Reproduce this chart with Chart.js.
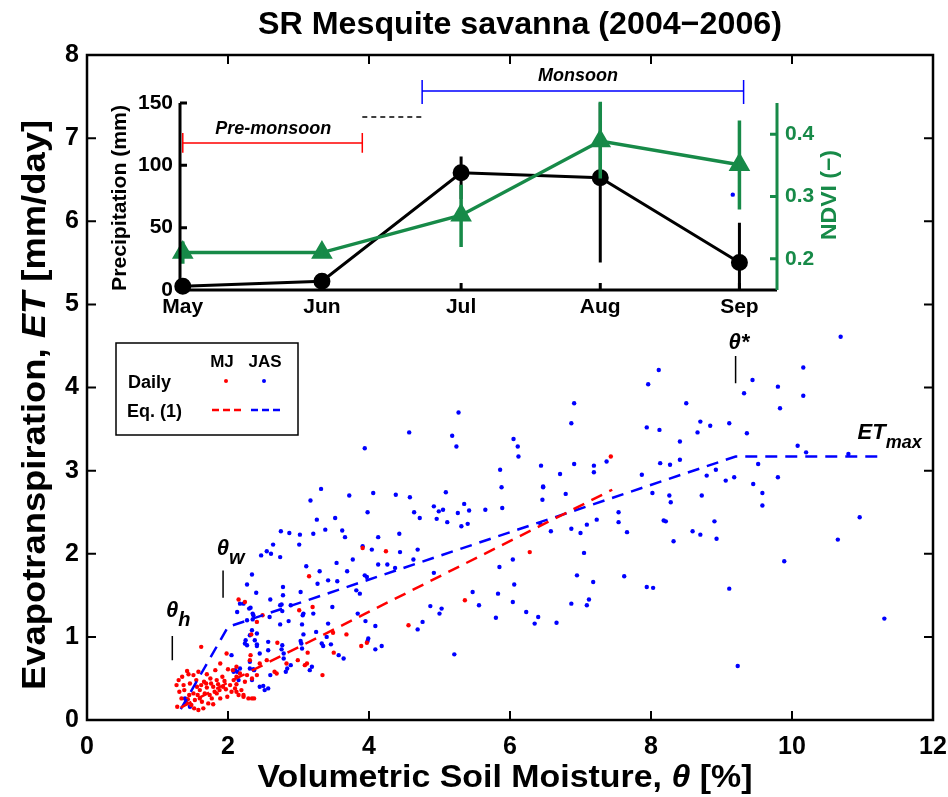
<!DOCTYPE html>
<html>
<head>
<meta charset="utf-8">
<title>SR Mesquite savanna (2004-2006)</title>
<script src="https://cdn.jsdelivr.net/npm/chart.js@4.4.0/dist/chart.umd.min.js"></script>
<style>
  html, body { margin: 0; padding: 0; background: #fff; }
  #wrap { position: relative; width: 948px; height: 797px; }
  #wrap canvas { position: absolute; left: 0; top: 0; }
</style>
</head>
<body>
<div id="wrap">
  <canvas id="mainChart" width="948" height="797"></canvas>
  <canvas id="insetChart" width="948" height="797"></canvas>
</div>
<script>
// ---- main panel data: daily ET vs soil moisture ----
const mjTheta = [1.62,1.42,1.58,1.89,1.98,2.00,1.92,1.75,1.84,1.66,1.56,1.46,1.37,1.27,1.31,1.34,1.28,1.41,1.48,1.53,
  1.58,1.65,1.72,1.77,1.84,1.60,1.67,1.51,1.60,1.70,1.79,1.86,1.93,2.03,2.12,2.05,1.99,1.89,1.79,2.15,
  2.22,2.29,2.34,2.19,2.12,2.07,2.17,2.27,2.24,2.34,2.41,1.44,1.51,1.30,1.82,2.12,2.31,2.45,2.55,
  1.55,1.70,1.63,1.45,1.74,1.88,1.95,1.38,1.52,1.69,1.81,1.57,1.97,2.08,1.43,1.35,1.76,1.62,
  2.41,2.33,2.70,3.13,2.99,3.09,3.12,3.34,2.69,2.66,2.32,2.37,2.22,2.10,2.12,2.83,
  3.15,2.15,3.01,3.20,2.49,2.24,3.91,4.24,5.36,6.28,4.56,3.68,3.89,3.97,3.50,3.49,7.43];
const mjET = [0.88,0.59,0.58,0.68,0.80,0.61,0.52,0.50,0.48,0.46,0.40,0.44,0.42,0.42,0.34,0.26,0.16,0.20,0.18,0.24,
  0.12,0.14,0.20,0.26,0.32,0.36,0.32,0.32,0.26,0.39,0.40,0.43,0.40,0.42,0.43,0.34,0.28,0.26,0.19,0.30,
  0.28,0.26,0.26,0.36,0.52,0.60,0.56,0.54,0.46,0.50,0.54,0.55,0.54,0.48,0.60,0.64,0.72,0.68,0.72,
  0.48,0.55,0.22,0.30,0.30,0.36,0.47,0.36,0.14,0.44,0.34,0.30,0.37,0.48,0.25,0.52,0.44,0.42,
  1.18,1.03,0.93,0.81,0.72,0.66,0.68,0.54,0.56,0.58,0.78,0.26,0.30,0.38,0.34,0.68,
  1.73,1.45,1.32,1.36,1.26,1.42,2.07,2.03,1.44,2.02,1.14,1.03,0.89,0.93,0.81,1.05,3.17];

const jasTheta = [1.39,1.41,1.46,2.05,2.08,2.17,2.24,2.31,2.34,2.27,2.36,2.41,2.45,2.57,2.31,2.36,2.45,2.52,2.17,2.22,
  2.30,2.35,2.59,2.76,2.86,3.06,3.21,2.74,3.05,3.48,3.42,2.41,2.25,2.38,2.41,2.27,2.77,2.76,2.57,2.79,
  2.79,3.07,3.03,3.04,3.05,3.25,3.33,3.35,3.46,3.57,3.64,3.19,3.16,2.84,2.82,2.89,2.60,2.50,2.57,2.34,
  2.31,2.37,2.10,2.13,2.15,3.40,
  3.32,3.17,3.26,3.52,3.38,3.21,2.75,2.87,3.02,3.01,2.64,2.47,2.55,2.61,2.74,3.11,3.54,2.34,3.30,2.27,
  3.42,3.27,3.55,2.40,2.78,2.78,3.03,2.60,2.32,2.74,2.77,2.89,3.07,2.13,2.35,
  5.27,4.57,3.94,5.18,5.24,6.05,6.11,6.12,5.86,6.44,5.88,6.47,6.46,3.72,4.06,4.38,4.58,5.09,3.98,4.64,
  4.72,4.92,4.99,5.05,4.96,5.11,5.26,5.35,5.42,5.65,5.89,5.31,5.40,3.62,3.66,4.13,4.43,3.91,4.04,4.44,
  4.69,3.77,3.69,4.13,4.26,4.37,4.63,3.94,3.97,3.82,3.87,4.92,6.04,5.85,6.06,5.47,5.83,6.04,5.56,4.87,
  5.03,5.00,3.84,3.95,4.09,4.69,4.76,5.80,6.23,6.40,6.35,3.99,3.98,4.09,4.18,5.21,
  6.91,6.87,6.91,6.71,7.19,7.19,6.47,6.79,6.43,6.58,6.87,7.00,7.09,7.23,7.05,6.95,7.18,6.87,7.12,7.09,
  6.66,9.23,
  8.11,7.96,8.50,7.94,8.12,8.70,8.84,8.66,9.11,8.41,7.37,8.13,8.27,8.41,7.87,8.79,8.92,9.06,9.18,8.02,
  8.26,8.28,8.72,7.54,7.54,8.18,8.21,8.90,7.66,8.32,8.59,8.70,8.93,7.62,7.94,8.03,9.11,
  10.69,10.16,9.44,9.80,9.32,10.16,9.83,9.36,10.08,10.20,9.52,9.45,9.80,9.58,9.58,10.96,10.65,9.89,11.31,10.80,
  9.16];
const jasET = [0.26,0.24,0.16,0.78,0.58,0.62,0.92,1.02,1.08,1.20,1.26,0.89,0.80,0.94,0.70,0.61,0.40,0.36,1.40,1.40,
  1.34,1.21,1.24,1.39,1.19,1.26,1.28,1.15,1.15,1.36,1.16,1.04,0.96,0.96,0.91,0.90,0.90,0.85,0.84,0.80,
  0.74,1.03,0.95,0.92,0.86,1.06,0.92,0.89,0.91,0.78,0.74,0.64,0.60,0.62,0.58,0.66,0.54,0.41,0.38,0.48,
  0.62,0.60,0.60,0.58,0.48,1.00,
  2.78,2.64,2.41,2.43,2.29,2.24,2.27,2.25,2.23,2.11,2.11,1.98,2.03,2.00,1.96,1.85,1.89,1.75,1.79,1.63,
  1.68,1.64,1.67,1.53,1.60,1.50,1.54,1.45,1.35,1.38,1.31,1.38,1.28,1.30,1.28,
  3.70,3.46,3.27,3.42,3.29,3.38,3.29,3.17,3.01,3.06,2.80,2.81,2.65,2.70,2.73,2.71,2.68,2.74,2.50,2.50,
  2.43,2.57,2.51,2.53,2.42,2.38,2.49,2.60,2.52,2.53,2.55,2.33,2.36,2.28,2.20,2.20,2.24,2.09,2.05,2.02,
  2.05,1.93,1.79,1.87,1.87,1.83,1.93,1.74,1.72,1.56,1.52,1.77,1.93,1.84,1.63,1.54,1.52,1.42,1.38,1.37,
  1.34,1.28,1.28,1.19,1.13,1.09,1.18,1.23,1.30,1.24,1.16,0.98,0.95,0.85,0.89,0.79,
  3.81,3.57,3.08,2.96,3.06,2.98,2.80,2.72,2.36,2.27,2.30,2.25,2.35,2.41,2.01,1.74,1.66,1.40,1.45,1.38,
  1.17,0.65,
  4.21,4.04,3.81,3.52,3.49,3.59,3.54,3.46,3.57,3.35,3.11,3.09,3.07,3.13,2.95,2.94,3.01,2.88,2.92,2.73,
  2.70,2.62,2.70,2.50,2.38,2.40,2.39,2.39,2.26,2.15,2.27,2.23,2.18,1.73,1.60,1.59,1.58,
  4.61,4.24,4.09,4.01,3.93,3.90,3.75,3.45,3.30,3.22,3.08,2.84,2.92,2.73,2.58,2.44,2.17,1.91,1.22,3.20,
  6.32];

// Eq. (1) fits, breakpoints at theta_h, theta_w, theta*
const eqThetaMJ = [1.33, 2.0, 7.45];
const eqMJ = [0.15, 0.45, 2.77];
const eqThetaJAS = [1.33, 2.0, 9.2, 11.3];
const eqJAS = [0.13, 1.12, 3.17, 3.17];

const xTicks = [0, 2, 4, 6, 8, 10, 12];
const yTicks = [0, 1, 2, 3, 4, 5, 6, 7, 8];

// ---- inset data: monthly precipitation and NDVI ----
const monthNum = [5, 6, 7, 8, 9];
const monthLabels = ['May', 'Jun', 'Jul', 'Aug', 'Sep'];
const precip = [3, 7, 94, 90, 22];
const precipLow = [0, 3, 73, 22, 0];
const precipHigh = [6, 11, 107, 150, 54];
const ndvi = [0.21, 0.21, 0.27, 0.389, 0.351];
const ndviLow = [0.192, 0.205, 0.219, 0.329, 0.279];
const ndviHigh = [0.228, 0.215, 0.319, 0.452, 0.422];
const precipTicks = [0, 50, 100, 150];
const ndviTicks = [0.2, 0.3, 0.4];

const FAM = '"Liberation Sans", Arial, Helvetica, sans-serif';
const GREEN = '#178a48';

const pts = (xs, ys) => xs.map((x, i) => ({ x: x, y: ys[i] }));

// draw a run of text pieces, optionally squeezed to a target width
function drawParts(ctx, parts, x, y, opt) {
  opt = opt || {};
  ctx.save();
  ctx.translate(x, y);
  if (opt.rot) ctx.rotate(opt.rot);
  let total = 0;
  parts.forEach(p => { ctx.font = p.f; p.w = ctx.measureText(p.t).width; total += p.w; });
  if (opt.width) ctx.scale(opt.width / total, 1);
  let cx = opt.align === 'center' ? -total / 2 : (opt.align === 'right' ? -total : 0);
  ctx.textBaseline = 'alphabetic';
  ctx.fillStyle = opt.color || '#000';
  parts.forEach(p => { ctx.font = p.f; ctx.fillText(p.t, cx, p.dy || 0); cx += p.w; });
  ctx.restore();
}

const B = s => 'bold ' + s + 'px ' + FAM;
const BI = s => 'italic bold ' + s + 'px ' + FAM;

// keep the plot edges where the layout padding puts them
const noOverhang = s => { s.paddingLeft = 0; s.paddingRight = 0; };

const mainDecor = {
  id: 'mainDecor',
  afterDraw(chart) {
    const ctx = chart.ctx, a = chart.chartArea;
    const sx = chart.scales.x, sy = chart.scales.y;
    ctx.save();
    // box and inward ticks
    ctx.strokeStyle = '#000';
    ctx.lineWidth = 2.5;
    ctx.strokeRect(a.left, a.top, a.right - a.left, a.bottom - a.top);
    ctx.lineWidth = 2;
    ctx.beginPath();
    yTicks.forEach(v => {
      const p = sy.getPixelForValue(v);
      ctx.moveTo(a.left, p); ctx.lineTo(a.left + 9, p);
      ctx.moveTo(a.right, p); ctx.lineTo(a.right - 9, p);
    });
    xTicks.forEach(v => {
      const p = sx.getPixelForValue(v);
      ctx.moveTo(p, a.bottom); ctx.lineTo(p, a.bottom - 9);
      ctx.moveTo(p, a.top); ctx.lineTo(p, a.top + 9);
    });
    ctx.stroke();

    // marker lines for theta_h, theta_w, theta*
    ctx.lineWidth = 1.5;
    ctx.beginPath();
    [[1.21, 0.72, 1.01], [1.93, 1.47, 1.80], [9.2, 4.05, 4.38]].forEach(m => {
      const px = sx.getPixelForValue(m[0]);
      ctx.moveTo(px, sy.getPixelForValue(m[1]));
      ctx.lineTo(px, sy.getPixelForValue(m[2]));
    });
    ctx.stroke();
    ctx.restore();

    drawParts(ctx, [{ t: 'θ', f: BI(22) }, { t: 'h', f: BI(20), dy: 9 }], sx.getPixelForValue(1.12), sy.getPixelForValue(1.24));
    drawParts(ctx, [{ t: 'θ', f: BI(22) }, { t: 'w', f: BI(20), dy: 9 }], sx.getPixelForValue(1.84), sy.getPixelForValue(1.99));
    drawParts(ctx, [{ t: 'θ*', f: BI(22) }], sx.getPixelForValue(9.1), sy.getPixelForValue(4.46));
    drawParts(ctx, [{ t: 'ET', f: BI(22) }, { t: 'max', f: BI(18), dy: 9 }], sx.getPixelForValue(10.93), sy.getPixelForValue(3.38));

    // legend box
    const lx = 116, ly = 343;
    ctx.save();
    ctx.fillStyle = '#fff';
    ctx.fillRect(lx, ly, 182, 92);
    ctx.strokeStyle = '#000';
    ctx.lineWidth = 1.5;
    ctx.strokeRect(lx, ly, 182, 92);
    ctx.fillStyle = '#ff0000';
    ctx.beginPath(); ctx.arc(226, 381, 2, 0, Math.PI * 2); ctx.fill();
    ctx.fillStyle = '#0000ff';
    ctx.beginPath(); ctx.arc(264, 381, 2, 0, Math.PI * 2); ctx.fill();
    ctx.lineWidth = 2.5;
    ctx.setLineDash([7, 4]);
    ctx.strokeStyle = '#ff0000';
    ctx.beginPath(); ctx.moveTo(212, 410); ctx.lineTo(241, 410); ctx.stroke();
    ctx.strokeStyle = '#0000ff';
    ctx.beginPath(); ctx.moveTo(251, 410); ctx.lineTo(280, 410); ctx.stroke();
    ctx.restore();
    drawParts(ctx, [{ t: 'MJ', f: B(17) }], 222, 367, { align: 'center' });
    drawParts(ctx, [{ t: 'JAS', f: B(17) }], 265, 367, { align: 'center' });
    drawParts(ctx, [{ t: 'Daily', f: B(18) }], 128, 388);
    drawParts(ctx, [{ t: 'Eq. (1)', f: B(18) }], 127, 417);

    // titles
    drawParts(ctx, [{ t: 'SR Mesquite savanna (2004\u22122006)', f: B(32) }], 520, 34, { align: 'center', width: 524 });
    drawParts(ctx, [{ t: 'Volumetric Soil Moisture, ', f: B(32) }, { t: 'θ', f: BI(32) }, { t: ' [%]', f: B(32) }],
      505, 787, { align: 'center', width: 495 });
    drawParts(ctx, [{ t: 'Evapotranspiration, ', f: B(34) }, { t: 'ET', f: BI(34) }, { t: ' [mm/day]', f: B(34) }],
      45, 405, { align: 'center', width: 570, rot: -Math.PI / 2 });
  }
};

new Chart(document.getElementById('mainChart'), {
  type: 'scatter',
  data: {
    datasets: [
      { label: 'JAS daily', data: pts(jasTheta, jasET), backgroundColor: '#0000ff', borderWidth: 0, pointRadius: 2.2, order: 4 },
      { label: 'MJ daily', data: pts(mjTheta, mjET), backgroundColor: '#ff0000', borderWidth: 0, pointRadius: 2.2, order: 3 },
      { label: 'JAS Eq. (1)', type: 'line', data: pts(eqThetaJAS, eqJAS), borderColor: '#0000ff', borderWidth: 2.5,
        borderDash: [12, 8], pointRadius: 0, fill: false, order: 2 },
      { label: 'MJ Eq. (1)', type: 'line', data: pts(eqThetaMJ, eqMJ), borderColor: '#ff0000', borderWidth: 2.5,
        borderDash: [12, 8], pointRadius: 0, fill: false, order: 1 }
    ]
  },
  options: {
    responsive: false,
    animation: false,
    layout: { padding: { top: 55, right: 15, left: 0, bottom: 0 } },
    plugins: { legend: { display: false }, tooltip: { enabled: false } },
    scales: {
      x: {
        type: 'linear', min: 0, max: 12,
        afterBuildTicks: s => { s.ticks = xTicks.map(v => ({ value: v })); },
        ticks: { font: { family: FAM, size: 25, weight: 'bold' }, color: '#000', padding: 12, maxRotation: 0 },
        grid: { display: false, drawTicks: false },
        border: { display: false },
        afterFit: s => { s.height = 77; noOverhang(s); }
      },
      y: {
        type: 'linear', min: 0, max: 8,
        afterBuildTicks: s => { s.ticks = yTicks.map(v => ({ value: v })); },
        ticks: { font: { family: FAM, size: 25, weight: 'bold' }, color: '#000', padding: 8 },
        grid: { display: false, drawTicks: false },
        border: { display: false },
        afterFit: s => { s.width = 87; s.paddingTop = 0; s.paddingBottom = 0; }
      }
    }
  },
  plugins: [mainDecor]
});

// ---- inset ----
const insetDecor = {
  id: 'insetDecor',
  afterDatasetDraw(chart, args) {
    const ctx = chart.ctx, sx = chart.scales.x;
    const isP = args.index === 0;
    const sy = isP ? chart.scales.y : chart.scales.y2;
    const lo = isP ? precipLow : ndviLow, hi = isP ? precipHigh : ndviHigh;
    ctx.save();
    ctx.strokeStyle = isP ? '#000' : GREEN;
    ctx.lineWidth = isP ? 3 : 3.5;
    ctx.beginPath();
    monthNum.forEach((m, i) => {
      const px = sx.getPixelForValue(m);
      ctx.moveTo(px, sy.getPixelForValue(lo[i]));
      ctx.lineTo(px, sy.getPixelForValue(hi[i]));
    });
    ctx.stroke();
    ctx.restore();
  },
  afterDraw(chart) {
    const ctx = chart.ctx, a = chart.chartArea;
    const sx = chart.scales.x, sy = chart.scales.y, s2 = chart.scales.y2;
    ctx.save();
    ctx.lineCap = 'butt';
    ctx.strokeStyle = '#000';
    ctx.lineWidth = 3;
    ctx.beginPath();
    ctx.moveTo(a.left, a.top); ctx.lineTo(a.left, a.bottom); ctx.lineTo(a.right, a.bottom);
    precipTicks.forEach(v => { const p = sy.getPixelForValue(v); ctx.moveTo(a.left, p); ctx.lineTo(a.left + 7, p); });
    monthNum.forEach(v => { const p = sx.getPixelForValue(v); ctx.moveTo(p, a.bottom); ctx.lineTo(p, a.bottom - 7); });
    ctx.stroke();
    ctx.strokeStyle = GREEN;
    ctx.beginPath();
    ctx.moveTo(a.right, a.top); ctx.lineTo(a.right, a.bottom);
    ndviTicks.forEach(v => { const p = s2.getPixelForValue(v); ctx.moveTo(a.right, p); ctx.lineTo(a.right - 7, p); });
    ctx.stroke();

    // season brackets
    const bracket = (x0, x1, yv, h0, h1, col) => {
      const py = sy.getPixelForValue(yv);
      const p0 = sx.getPixelForValue(x0), p1 = sx.getPixelForValue(x1);
      ctx.strokeStyle = col;
      ctx.lineWidth = 1.5;
      ctx.beginPath();
      ctx.moveTo(p0, py); ctx.lineTo(p1, py);
      [p0, p1].forEach(p => { ctx.moveTo(p, sy.getPixelForValue(h0)); ctx.lineTo(p, sy.getPixelForValue(h1)); });
      ctx.stroke();
    };
    bracket(5.0, 6.29, 118, 110, 126, '#ff0000');
    bracket(6.72, 9.03, 159.6, 149.2, 168.4, '#0000ff');
    ctx.strokeStyle = '#000';
    ctx.lineWidth = 1.5;
    ctx.setLineDash([5, 4]);
    ctx.beginPath();
    ctx.moveTo(sx.getPixelForValue(6.29), sy.getPixelForValue(138.8));
    ctx.lineTo(sx.getPixelForValue(6.72), sy.getPixelForValue(138.8));
    ctx.stroke();
    ctx.restore();

    drawParts(ctx, [{ t: 'Pre-monsoon', f: BI(18) }], sx.getPixelForValue(5.65), sy.getPixelForValue(125.5), { align: 'center' });
    drawParts(ctx, [{ t: 'Monsoon', f: BI(18) }], sx.getPixelForValue(7.84), sy.getPixelForValue(168), { align: 'center' });

    drawParts(ctx, [{ t: 'Precipitation (mm)', f: B(20) }], 126, 198, { align: 'center', width: 186, rot: -Math.PI / 2 });
    drawParts(ctx, [{ t: 'NDVI (\u2212)', f: B(22) }], 836, 195, { align: 'center', width: 90, rot: -Math.PI / 2, color: GREEN });
  }
};

new Chart(document.getElementById('insetChart'), {
  type: 'line',
  data: {
    datasets: [
      { label: 'Precipitation', data: pts(monthNum, precip), yAxisID: 'y', borderColor: '#000', backgroundColor: '#000',
        borderWidth: 3, pointRadius: 7, pointStyle: 'circle', clip: false, order: 2 },
      { label: 'NDVI', data: pts(monthNum, ndvi), yAxisID: 'y2', borderColor: GREEN, backgroundColor: GREEN,
        borderWidth: 3.5, pointRadius: 9, pointStyle: 'triangle', clip: false, order: 1 }
    ]
  },
  options: {
    responsive: false,
    animation: false,
    layout: { padding: { top: 103, right: 0, left: 0, bottom: 0 } },
    plugins: { legend: { display: false }, tooltip: { enabled: false } },
    scales: {
      x: {
        type: 'linear', min: 4.98, max: 9.27,
        afterBuildTicks: s => { s.ticks = monthNum.map(v => ({ value: v })); },
        ticks: { callback: v => monthLabels[Math.round(v) - 5], font: { family: FAM, size: 21, weight: 'bold' },
          color: '#000', padding: 5, maxRotation: 0 },
        grid: { display: false, drawTicks: false },
        border: { display: false },
        afterFit: s => { s.height = 797 - 290; noOverhang(s); }
      },
      y: {
        position: 'left', min: 0, max: 150,
        afterBuildTicks: s => { s.ticks = precipTicks.map(v => ({ value: v })); },
        ticks: { font: { family: FAM, size: 21, weight: 'bold' }, color: '#000', padding: 7 },
        grid: { display: false, drawTicks: false },
        border: { display: false },
        afterFit: s => { s.width = 180; s.paddingTop = 0; s.paddingBottom = 0; }
      },
      y2: {
        position: 'right', min: 0.15, max: 0.45,
        afterBuildTicks: s => { s.ticks = ndviTicks.map(v => ({ value: v })); },
        ticks: { callback: v => v.toFixed(1), font: { family: FAM, size: 21, weight: 'bold' }, color: GREEN, padding: 8 },
        grid: { display: false, drawTicks: false },
        border: { display: false },
        afterFit: s => { s.width = 948 - 777; s.paddingTop = 0; s.paddingBottom = 0; }
      }
    }
  },
  plugins: [insetDecor]
});
</script>
</body>
</html>
